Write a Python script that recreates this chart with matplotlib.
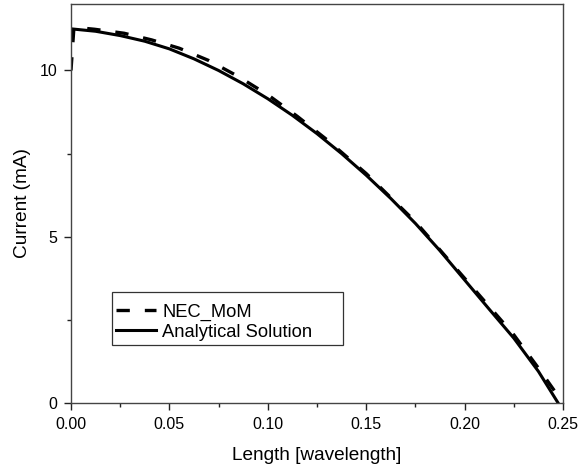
import matplotlib
matplotlib.use("Agg")
import matplotlib.pyplot as plt
from matplotlib.patches import Rectangle
from matplotlib.ticker import MultipleLocator

plt.rcParams['font.family'] = ['Liberation Sans', 'DejaVu Sans']

# Analytical solution
x_ana = [0.0, 0.0005, 0.0125, 0.025, 0.0375, 0.05, 0.0625, 0.075, 0.0875, 0.1,
         0.1125, 0.125, 0.1375, 0.15, 0.1625, 0.175, 0.1875, 0.2, 0.2125,
         0.225, 0.2375, 0.2475]
i_ana = [11.0, 11.25, 11.18, 11.05, 10.88, 10.65, 10.35, 10.0, 9.6, 9.15,
         8.65, 8.1, 7.5, 6.85, 6.15, 5.4, 4.58, 3.7, 2.82, 1.95, 0.95, 0.0]

# NEC MoM result
x_nec = [0.0, 0.0015, 0.012, 0.027, 0.041, 0.055, 0.07, 0.085, 0.1, 0.115,
         0.13, 0.15, 0.175, 0.2, 0.225, 0.2375, 0.245, 0.25]
i_nec = [10.0, 11.3, 11.24, 11.12, 10.92, 10.67, 10.3, 9.82, 9.27, 8.62,
         7.92, 6.9, 5.45, 3.75, 2.05, 1.05, 0.42, 0.0]

fig = plt.figure(figsize=(5.79, 4.70), dpi=100)
ax = fig.add_axes([0.1226, 0.1426, 0.8498, 0.8489])

ax.plot(x_nec, i_nec, color='black', lw=2.4, dashes=(4.0, 4.5), label='NEC_MoM')
ax.plot(x_ana, i_ana, color='black', lw=2.2, label='Analytical Solution')

ax.set_xlim(0, 0.25)
ax.set_ylim(0, 12)
ax.xaxis.set_major_locator(MultipleLocator(0.05))
ax.xaxis.set_minor_locator(MultipleLocator(0.025))
ax.yaxis.set_major_locator(MultipleLocator(5))
ax.yaxis.set_minor_locator(MultipleLocator(2.5))
ax.set_xticks([0, 0.05, 0.1, 0.15, 0.2, 0.25])
ax.set_xticklabels(['0.00', '0.05', '0.10', '0.15', '0.20', '0.25'])
ax.tick_params(which='major', length=5, width=1, labelsize=11.5, color='#222222', pad=5)
ax.tick_params(which='minor', length=3, width=1, color='#222222')

for s in ax.spines.values():
    s.set_linewidth(1.0)
    s.set_color('#444444')

ax.set_xlabel('Length [wavelength]', fontsize=13.7, labelpad=11)
ax.set_ylabel('Current (mA)', fontsize=13.7, labelpad=6)

# legend box is wider than its text in the original, so draw the frame by hand
ax.add_patch(Rectangle((0.0833, 0.1454), 0.4695, 0.1328, transform=ax.transAxes,
                       facecolor='white', edgecolor='#333333', lw=0.9, zorder=4))
leg = ax.legend(loc='lower left', bbox_to_anchor=(0.083, 0.145), fontsize=13.2,
                frameon=False, borderaxespad=0, borderpad=0.25, handlelength=2.15,
                handletextpad=0.35, labelspacing=0.15)
leg.set_zorder(5)

fig.savefig('out.png', dpi=100)
